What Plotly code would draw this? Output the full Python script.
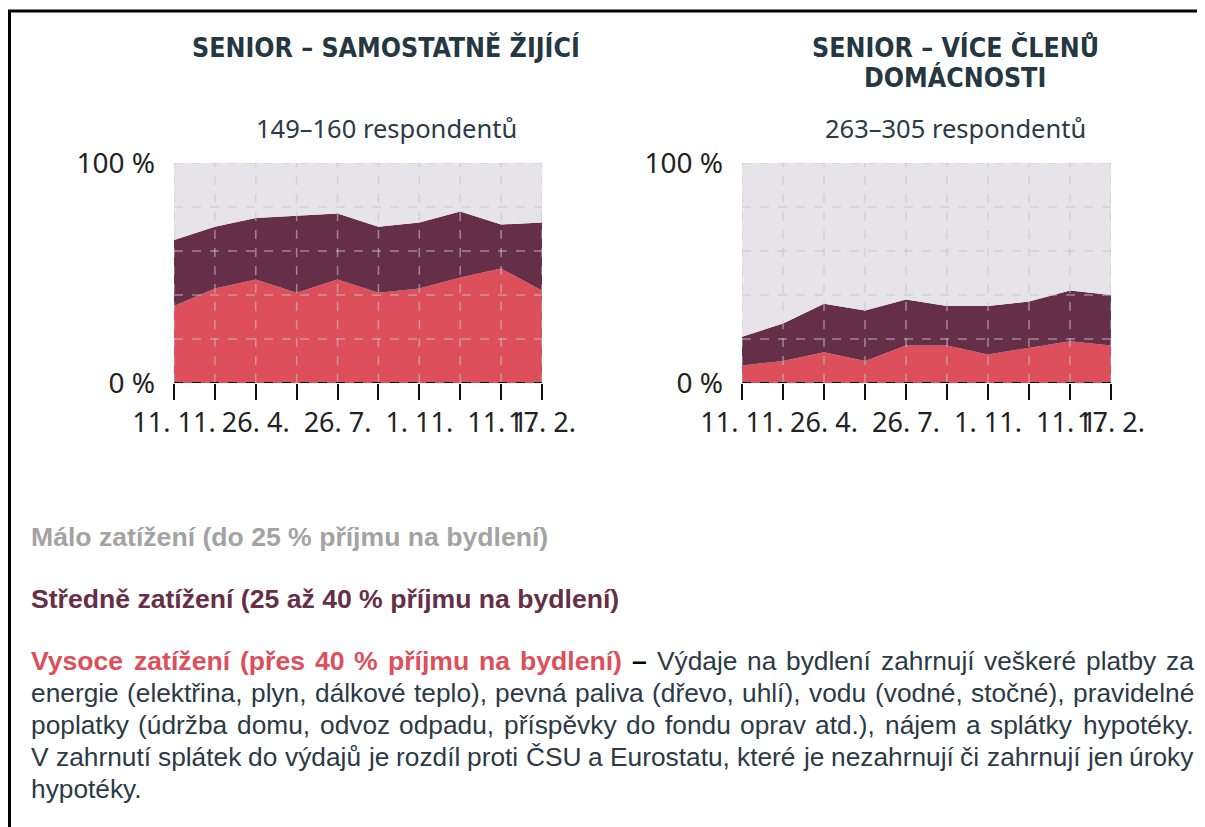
import plotly.graph_objects as go

W, H = 1205, 827
OFF = 8  # page body margin in the browser

# ---- data (percent of respondents) ----
tick_positions = list(range(10))
date_labels = ["11. 11.", "", "26. 4.", "", "26. 7.", "", "1. 11.", "", "11. 1.", "17. 2."]

vysoce_samostatne = [35, 43, 47, 41, 47, 41, 43, 48, 52, 42]
stredne_samostatne = [30, 28, 28, 35, 30, 30, 30, 30, 20, 31]
malo_samostatne = [35, 29, 25, 24, 23, 29, 27, 22, 28, 27]

vysoce_vice = [8, 10, 14, 10, 17, 17, 13, 16, 19, 17]
stredne_vice = [13, 17, 22, 23, 21, 18, 22, 21, 23, 23]
malo_vice = [79, 73, 64, 67, 62, 65, 65, 63, 58, 60]

title_lines = [["SENIOR – SAMOSTATNĚ ŽIJÍCÍ"], ["SENIOR – VÍCE ČLENŮ", "DOMÁCNOSTI"]]
subtitles = ["149–160 respondentů", "263–305 respondentů"]

RED = "#dd4f5b"
MAROON = "#652f47"
GREY = "#e6e4e8"
TEXT = "#222222"
BODY = "#2b3a45"

def px_x(v):
    return (v - OFF) / W

def px_y(v):
    return 1 - (v - OFF) / H

fig = go.Figure()

panels = [
    ("x", "y", vysoce_samostatne, stredne_samostatne, malo_samostatne),
    ("x2", "y2", vysoce_vice, stredne_vice, malo_vice),
]
for xa, ya, v, s, m in panels:
    for name, vals, col in [
        ("Vysoce zatížení", v, RED),
        ("Středně zatížení", s, MAROON),
        ("Málo zatížení", m, GREY),
    ]:
        fig.add_trace(go.Scatter(
            x=tick_positions, y=vals, xaxis=xa, yaxis=ya, name=name,
            stackgroup="grp" + xa, mode="lines", line=dict(width=0, color=col),
            fillcolor=col, showlegend=False, hoverinfo="skip",
        ))

xtickfont = dict(family="Noto Sans, DejaVu Sans, sans-serif", size=27, color=TEXT)
ytickfont = dict(family="Noto Sans, DejaVu Sans, sans-serif", size=28, color=TEXT)
xdomains = [[px_x(174), px_x(542)], [px_x(742), px_x(1111)]]
ydomain = [px_y(383), px_y(163)]

for i, (xa, ya) in enumerate([("xaxis", "yaxis"), ("xaxis2", "yaxis2")]):
    anchor_y = "y" if i == 0 else "y2"
    anchor_x = "x" if i == 0 else "x2"
    fig.layout[xa] = dict(
        domain=xdomains[i], anchor=anchor_y, range=[0, 9], automargin=False,
        tickmode="array", tickvals=tick_positions, ticktext=date_labels,
        ticks="outside", ticklen=16, tickwidth=2, tickcolor="#111",
        tickangle=0, showgrid=False, zeroline=False, showline=False,
        tickfont=xtickfont, ticklabelstandoff=0, fixedrange=True,
    )
    fig.layout[ya] = dict(
        domain=ydomain, anchor=anchor_x, range=[0, 100], automargin=False,
        tickmode="array", tickvals=[0, 100], ticktext=["0 %", "100 %"],
        ticks="", showgrid=False, zeroline=False, showline=False,
        tickfont=ytickfont, ticklabelstandoff=18, fixedrange=True,
    )

# dashed grid lines drawn above the areas
shapes = []
grid_y = [20, 40, 60, 80, 100]
grid_line = dict(color="rgba(195,195,200,0.6)", width=1.5, dash="dash")
for xr, yr in [("x", "y"), ("x2", "y2")]:
    for gx in tick_positions:
        shapes.append(dict(type="line", xref=xr, yref=yr, x0=gx, x1=gx, y0=0, y1=100,
                           line=grid_line, layer="above"))
    for gy in grid_y:
        shapes.append(dict(type="line", xref=xr, yref=yr, x0=0, x1=9, y0=gy, y1=gy,
                           line=grid_line, layer="above"))
    shapes.append(dict(type="line", xref=xr, yref=yr, x0=0, x1=9, y0=0, y1=0,
                       line=dict(color="#111", width=2, dash="dash"), layer="above"))

# page frame
shapes.append(dict(type="line", xref="paper", yref="paper", x0=px_x(8), x1=1, y0=px_y(11), y1=px_y(11),
                   line=dict(color="#000", width=3)))
shapes.append(dict(type="line", xref="paper", yref="paper", x0=px_x(9.5), x1=px_x(9.5), y0=px_y(10), y1=0,
                   line=dict(color="#000", width=3)))

annotations = []
title_font = dict(family="DejaVu Sans Condensed, Roboto, sans-serif", size=26.5, color="#253841", weight="bold")
sub_font = dict(family="Noto Sans, DejaVu Sans, sans-serif", size=25.5, color=BODY)
title_x = [386, 955]
for i in range(2):
    for j, line in enumerate(title_lines[i]):
        annotations.append(dict(text=line, xref="paper", yref="paper", x=px_x(title_x[i]),
                                y=px_y(47 + 31 * j), xanchor="center", yanchor="middle",
                                showarrow=False, font=title_font))
    annotations.append(dict(text=subtitles[i], xref="paper", yref="paper", x=px_x(title_x[i]),
                            y=px_y(128), xanchor="center", yanchor="middle", showarrow=False,
                            font=sub_font))

# ---- notes below the charts (justified text, Arial metrics) ----
FS_B = 26.6
FS_R = 26.3
FAM = "Liberation Sans, Arial, sans-serif"
REG_W = {" ": 278, "%": 889, "(": 333, ")": 333, ",": 278, ".": 278, "–": 556,
         "0": 556, "1": 556, "2": 556, "3": 556, "4": 556, "5": 556,
         "V": 667, "Č": 722, "S": 667, "U": 722, "E": 667,
         "a": 556, "b": 556, "c": 500, "d": 556, "e": 556, "f": 278, "g": 556, "h": 556,
         "i": 222, "j": 222, "k": 500, "l": 222, "m": 833, "n": 556, "o": 556, "p": 556,
         "r": 333, "s": 500, "t": 278, "u": 556, "v": 500, "y": 500, "z": 500,
         "á": 556, "é": 556, "ě": 556, "í": 278, "ř": 333, "š": 500, "č": 500, "ž": 500,
         "ů": 556, "ú": 556, "ý": 500}
BOLD_W = {" ": 278, "%": 889, "(": 333, ")": 333, ".": 278, "–": 556,
          "0": 556, "4": 556, "V": 667,
          "a": 556, "b": 611, "c": 556, "d": 611, "e": 556, "h": 611, "i": 278, "j": 278,
          "l": 278, "m": 889, "n": 611, "o": 611, "p": 611, "r": 389, "s": 556, "t": 333,
          "u": 611, "y": 556, "z": 500, "í": 278, "ř": 389, "ž": 500, "ě": 556, "é": 556}

def word_width(word, bold):
    table = BOLD_W if bold else REG_W
    size = FS_B if bold else FS_R
    return sum(table.get(ch, 556) for ch in word) / 1000.0 * size

legend_lines = [
    ("<b>Málo zatížení (do 25 % příjmu na bydlení)</b>", "#a3a3a3", 537),
    ("<b>Středně zatížení (25 až 40 % příjmu na bydlení)</b>", MAROON, 599),
]
TEXT_LEFT = 31
TEXT_RIGHT = 1194
for txt, col, yy in legend_lines:
    annotations.append(dict(text=txt, xref="paper", yref="paper", x=px_x(TEXT_LEFT), y=px_y(yy),
                            xanchor="left", yanchor="middle", showarrow=False,
                            borderpad=0, borderwidth=0,
                            font=dict(family=FAM, size=FS_B, color=col)))

red_part = "Vysoce zatížení (přes 40 % příjmu na bydlení)"
justified_lines = [
    [(w, True, RED) for w in red_part.split(" ")] + [("–", True, "#000000")]
    + [(w, False, BODY) for w in "Výdaje na bydlení zahrnují veškeré platby za".split(" ")],
    [(w, False, BODY) for w in "energie (elektřina, plyn, dálkové teplo), pevná paliva (dřevo, uhlí), vodu (vodné, stočné), pravidelné".split(" ")],
    [(w, False, BODY) for w in "poplatky (údržba domu, odvoz odpadu, příspěvky do fondu oprav atd.), nájem a splátky hypotéky.".split(" ")],
    [(w, False, BODY) for w in "V zahrnutí splátek do výdajů je rozdíl proti ČSU a Eurostatu, které je nezahrnují či zahrnují jen úroky".split(" ")],
]
last_line = "hypotéky."

for li, words in enumerate(justified_lines):
    yy = 661 + 32 * li
    widths = [word_width(w, b) for w, b, c in words]
    gap = (TEXT_RIGHT - TEXT_LEFT - sum(widths)) / (len(words) - 1)
    pos = TEXT_LEFT
    for k, ((w, b, c), wd) in enumerate(zip(words, widths)):
        last = k == len(words) - 1
        annotations.append(dict(
            text=("<b>%s</b>" % w) if b else w, xref="paper", yref="paper",
            x=px_x(TEXT_RIGHT if last else pos), y=px_y(yy),
            xanchor="right" if last else "left", yanchor="middle", showarrow=False,
            borderpad=0, borderwidth=0,
            font=dict(family=FAM, size=FS_B if b else FS_R, color=c)))
        pos += wd + gap

annotations.append(dict(text=last_line, xref="paper", yref="paper", x=px_x(TEXT_LEFT),
                        y=px_y(661 + 32 * 4), xanchor="left", yanchor="middle", showarrow=False,
                        borderpad=0, borderwidth=0, font=dict(family=FAM, size=FS_R, color=BODY)))

fig.update_layout(
    template="none",
    width=W, height=H, margin=dict(l=0, r=0, t=0, b=0, pad=0, autoexpand=False),
    paper_bgcolor="white", plot_bgcolor="white",
    shapes=shapes, annotations=annotations, showlegend=False,
)

fig.write_html("out.html")
